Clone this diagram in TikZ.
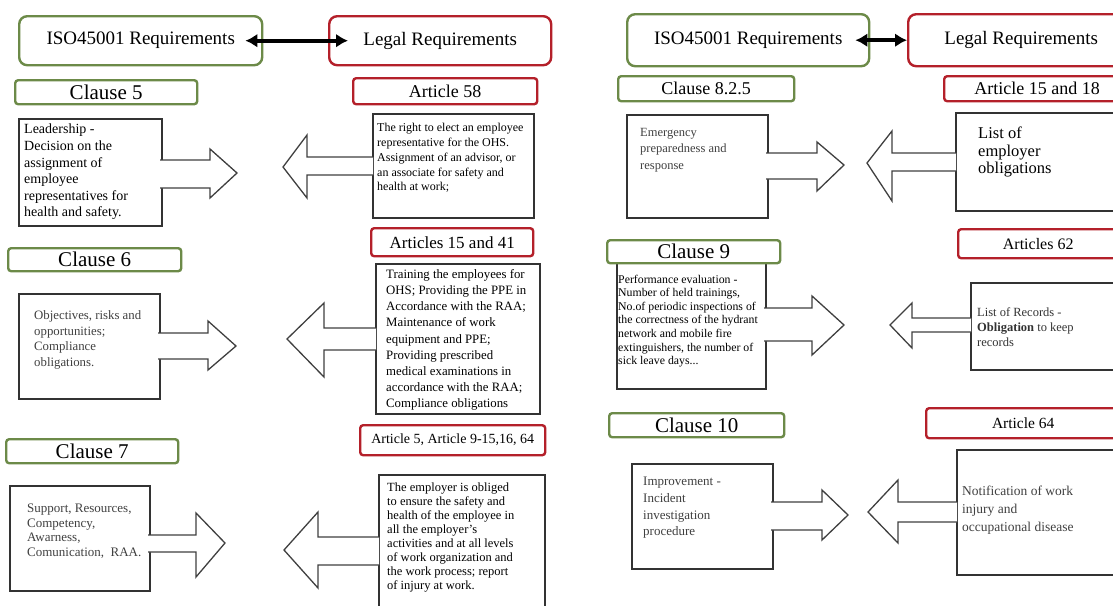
\documentclass[tikz,border=0pt]{standalone}
\usepackage{fontspec}
\setmainfont{Liberation Serif}
\usepackage{xcolor}
\usetikzlibrary{positioning, calc, arrows.meta}
\definecolor{isogreen}{RGB}{108,138,72}
\definecolor{lawred}{RGB}{180,32,42}
\newcommand{\setfs}[2]{\fontsize{#1}{#2}\selectfont}

\begin{document}
\begin{tikzpicture}[x=1pt, y=-1pt,
	head/.style={draw, line width=2.4pt, rounded corners=8pt, anchor=north west, inner sep=0pt, font=\setfs{19}{22}},
	tag/.style={draw, fill=white, line width=2.4pt, rounded corners=3pt, anchor=north west, inner sep=0pt},
	card/.style={draw=black!80, line width=1.5pt, anchor=north west, inner sep=0pt},
	txt/.style={anchor=west, inner sep=0pt, align=left},
	fat/.style={draw=black!75, line width=1.3pt, fill=white, line join=miter},
	both/.style={<->, >={Latex[length=12pt,width=14pt]}, line width=4pt}
	]
				  \useasboundingbox (0,0) rectangle (1113,605);
				  \clip (0,0) rectangle (1113,605);
				  \fill[white] (0,0) rectangle (1113,605);
				  % left half
				  \node[head, draw=isogreen, minimum width=243, minimum height=49] (iso1) at (18,15) {ISO45001 Requirements};
				  \node[head, draw=lawred, minimum width=222, minimum height=49] (legal1) at (328,15) {Legal Requirements};
				  \draw[both] ([xshift=-18pt]iso1.east) -- ([xshift=20pt]legal1.west);
				  \node[tag, draw=isogreen, minimum width=182, minimum height=24, font=\setfs{21}{24}] (cl5) at (14,79) {Clause 5};
				  \node[tag, draw=lawred, minimum width=184, minimum height=26, font=\setfs{18}{21}] (ar58) at (352,77) {Article 58};
				  \node[card, minimum width=143, minimum height=107] (lead) at (18,118) {};
				  \node[card, minimum width=161, minimum height=104] (right58) at (372,113) {};
				  \draw[fat] (160,160) -| (210,149) -- (237,173) -- (210,198) |- (160,188);
				  \draw[fat] (373,157) -| (307,135) -- (283,167) -- (307,198) |- (373,175);
				  \node[txt, font=\setfs{14}{16.6}] (lead-t) at (24,172) {Leadership -\\Decision on the\\assignment of\\employee\\representatives for\\health and safety.};
				  \node[txt, font=\setfs{12}{14.8}] (right58-t) at (377,158) {The right to elect an employee\\representative for the OHS.\\Assignment of an advisor, or\\an associate for safety and\\health at work;};
				  \node[tag, draw=isogreen, minimum width=173, minimum height=23, font=\setfs{21}{24}] (cl6) at (7,247) {Clause 6};
				  \node[tag, draw=lawred, minimum width=162, minimum height=28, font=\setfs{17}{20}] (ar1541) at (370,227) {Articles 15 and 41};
				  \node[card, minimum width=141, minimum height=105] (obj) at (18,293) {};
				  \node[card, minimum width=164, minimum height=150] (train) at (375,263) {};
				  \draw[fat] (158,333) -| (208,321) -- (236,346) -- (208,370) |- (158,359);
				  \draw[fat] (376,328) -| (324,303) -- (287,339) -- (324,377) |- (376,350);
				  \node[txt, text=black!75, font=\setfs{12.8}{15.6}] (obj-t) at (34,340) {Objectives, risks and\\opportunities;\\Compliance\\obligations.};
				  \node[txt, font=\setfs{12.8}{16.2}] (train-t) at (386,340) {Training the employees for\\OHS; Providing the PPE in\\Accordance with the RAA;\\Maintenance of work\\equipment and PPE;\\Providing prescribed\\medical examinations in\\accordance with the RAA;\\Compliance obligations};
				  \node[tag, draw=isogreen, minimum width=172, minimum height=24, font=\setfs{21}{24}] (cl7) at (5,438) {Clause 7};
				  \node[tag, draw=lawred, minimum width=185, minimum height=30, font=\setfs{14}{17}] (ar5) at (359,424) {Article 5, Article 9-15,16, 64};
				  \node[card, minimum width=140, minimum height=105] (supp) at (9,485) {};
				  \node[card, minimum width=166, minimum height=150] (employer) at (378,474) {};
				  \draw[fat] (148,535) -| (196,513) -- (225,543) -- (196,577) |- (148,552);
				  \draw[fat] (379,537) -| (318,512) -- (284,550) -- (318,588) |- (379,565);
				  \node[txt, text=black!75, font=\setfs{13}{14.6}] (supp-t) at (27,531) {Support, Resources,\\Competency,\\Awarness,\\Comunication,\ \ RAA.};
				  \node[txt, font=\setfs{12.5}{14}] (employer-t) at (387,538) {The employer is obliged\\to ensure the safety and\\health of the employee in\\all the employer's\\activities and at all levels\\of work organization and\\the work process; report\\of injury at work.};
				  % right half
				  \node[head, draw=isogreen, minimum width=242, minimum height=52] (iso2) at (626,13) {ISO45001 Requirements};
				  \node[head, draw=lawred, minimum width=226, minimum height=52] (legal2) at (907,13) {Legal Requirements};
				  \draw[both] ([xshift=-15pt]iso2.east) -- (legal2.west);
				  \node[tag, draw=isogreen, minimum width=176, minimum height=25, font=\setfs{18}{21}] (cl825) at (617,75) {Clause 8.2.5};
				  \node[tag, draw=lawred, minimum width=186, minimum height=25, font=\setfs{18}{21}] (ar1518) at (943,75) {Article 15 and 18};
				  \node[card, minimum width=141, minimum height=103] (emerg) at (626,114) {};
				  \node[card, minimum width=170, minimum height=98] (oblig) at (955,112) {};
				  \draw[fat] (766,153) -| (817,142) -- (844,165) -- (817,191) |- (766,179);
				  \draw[fat] (956,153) -| (892,131) -- (867,163) -- (892,201) |- (956,171);
				  \node[txt, text=black!75, font=\setfs{12.5}{16.6}] (emerg-t) at (640,150) {Emergency\\preparedness and\\response};
				  \node[txt, font=\setfs{16.5}{17.5}] (oblig-t) at (978,152) {List of\\employer\\obligations};
				  \node[card, minimum width=149, minimum height=126] (perf) at (616,262) {};
				  \node[tag, draw=isogreen, minimum width=173, minimum height=23, font=\setfs{21}{24}] (cl9) at (606,239) {Clause 9};
				  \node[tag, draw=lawred, minimum width=160, minimum height=29, font=\setfs{16}{19}] (ar62) at (957,228) {Articles 62};
				  \node[card, minimum width=155, minimum height=87] (rec) at (970,282) {};
				  \draw[fat] (764,308) -| (812,296) -- (844,325) -- (812,355) |- (764,341);
				  \draw[fat] (971,318) -| (912,303) -- (890,325) -- (912,348) |- (971,332);
				  \node[txt, font=\setfs{11.8}{13.6}] (perf-t) at (618,321) {Performance evaluation -\\Number of held trainings,\\No.of periodic inspections of\\the correctness of the hydrant\\network and mobile fire\\extinguishers, the number of\\sick leave days...};
				  \node[txt, text=black!80, font=\setfs{12.5}{15}] (rec-t) at (977,327) {List of Records -\\\textbf{Obligation} to keep\\records};
				  \node[tag, draw=isogreen, minimum width=175, minimum height=24, font=\setfs{21}{24}] (cl10) at (608,412) {Clause 10};
				  \node[tag, draw=lawred, minimum width=194, minimum height=30, font=\setfs{15.5}{18}] (ar64) at (925,407) {Article 64};
				  \node[card, minimum width=141, minimum height=105] (impr) at (631,463) {};
				  \node[card, minimum width=170, minimum height=125] (notif) at (956,449) {};
				  \draw[fat] (771,502) -| (822,490) -- (848,515) -- (822,540) |- (771,530);
				  \draw[fat] (957,502) -| (898,480) -- (868,512) -- (898,543) |- (957,522);
				  \node[txt, text=black!75, font=\setfs{13}{16.7}] (impr-t) at (643,508) {Improvement -\\Incident\\investigation\\procedure};
				  \node[txt, text=black!75, font=\setfs{13.5}{18}] (notif-t) at (962,510) {Notification of work\\injury and\\occupational disease};
				\end{tikzpicture}
\end{document}
